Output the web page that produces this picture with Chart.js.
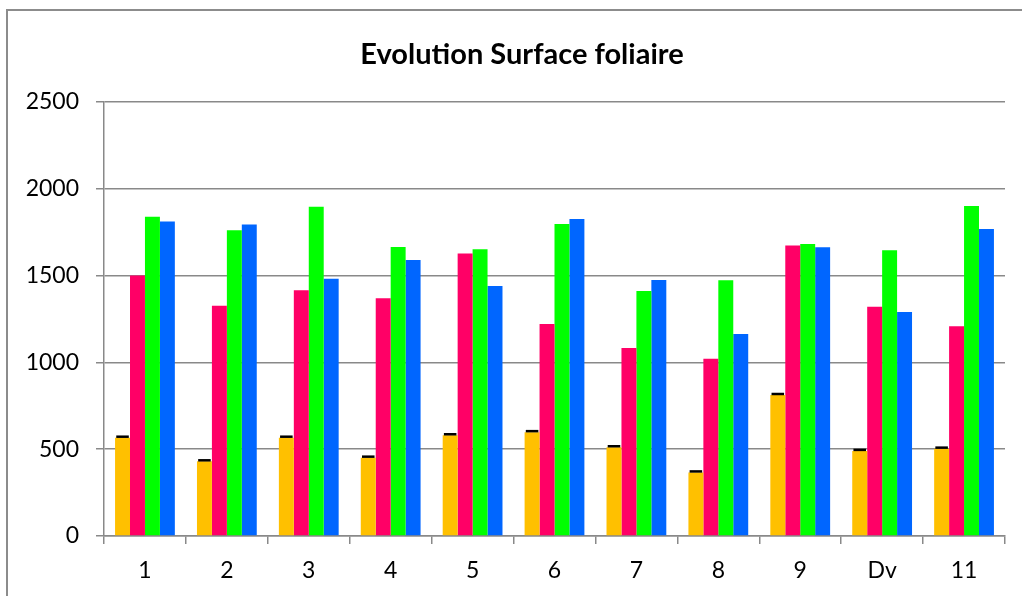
<!DOCTYPE html>
<html>
<head>
<meta charset="utf-8">
<script src="https://cdn.jsdelivr.net/npm/chart.js@4.4.1/dist/chart.umd.min.js"></script>
<style>
  html, body { margin: 0; padding: 0; background: #fff; }
  #wrap { width: 1022px; height: 596px; position: relative; }
</style>
</head>
<body>
<div id="wrap"><canvas id="c" width="1022" height="596"></canvas></div>
<script>
var categories = ['1', '2', '3', '4', '5', '6', '7', '8', '9', 'Dv', '11'];
var serieOrange = [566, 430, 566, 451, 580, 598, 511, 366, 812, 490, 503];
var serieOrangeErr = [6, 6, 6, 6, 6, 6, 6, 6, 6, 6, 6];
var serieRose = [1500, 1327, 1415, 1369, 1628, 1221, 1083, 1021, 1674, 1321, 1208];
var serieVert = [1839, 1761, 1897, 1665, 1652, 1797, 1411, 1473, 1682, 1646, 1901];
var serieBleu = [1811, 1794, 1482, 1590, 1440, 1826, 1475, 1163, 1663, 1290, 1768];
var yTicks = [0, 500, 1000, 1500, 2000, 2500];
var titre = 'Evolution Surface foliaire';

var gridColor = '#898989';
var fontFamily = 'Lato, "Open Sans", sans-serif';

// cadre du graphique (haut et gauche)
var framePlugin = {
  id: 'frame',
  beforeDraw: function (chart) {
    var ctx = chart.ctx;
    ctx.save();
    ctx.fillStyle = '#fff';
    ctx.fillRect(0, 0, chart.width, chart.height);
    ctx.strokeStyle = '#8c8c8c';
    ctx.lineWidth = 2;
    ctx.beginPath();
    ctx.moveTo(7, chart.height);
    ctx.lineTo(7, 10);
    ctx.lineTo(chart.width, 10);
    ctx.stroke();
    ctx.restore();
  },
  // titre centré sur le cadre, pas sur le canvas
  afterDraw: function (chart) {
    var ctx = chart.ctx;
    ctx.save();
    ctx.fillStyle = '#000';
    ctx.font = 'bold 29px ' + fontFamily;
    ctx.textAlign = 'center';
    ctx.textBaseline = 'middle';
    ctx.fillText(titre, 522, 55);
    ctx.restore();
  }
};

// petites barres d'erreur noires sur la série orange
var errorBarPlugin = {
  id: 'errorBars',
  afterDatasetsDraw: function (chart) {
    var meta = chart.getDatasetMeta(0);
    var y = chart.scales.y;
    var ctx = chart.ctx;
    ctx.save();
    ctx.strokeStyle = '#000';
    ctx.lineWidth = 2.5;
    meta.data.forEach(function (bar, i) {
      var py = y.getPixelForValue(serieOrange[i] + serieOrangeErr[i]);
      var half = bar.width * 0.42;
      ctx.beginPath();
      ctx.moveTo(bar.x - half, py);
      ctx.lineTo(bar.x + half, py);
      ctx.stroke();
    });
    ctx.restore();
  }
};

new Chart(document.getElementById('c'), {
  type: 'bar',
  data: {
    labels: categories,
    datasets: [
      { data: serieOrange, backgroundColor: '#FFC000' },
      { data: serieRose, backgroundColor: '#FF0066' },
      { data: serieVert, backgroundColor: '#00FF00' },
      { data: serieBleu, backgroundColor: '#0066FF' }
    ]
  },
  options: {
    responsive: false,
    animation: false,
    devicePixelRatio: 1,
    categoryPercentage: 0.73,
    barPercentage: 1,
    layout: { padding: { left: 0, right: 17, top: 102, bottom: 0 } },
    plugins: {
      legend: { display: false },
      tooltip: { enabled: false },
      title: { display: false }
    },
    scales: {
      x: {
        grid: { display: true, drawOnChartArea: false, drawTicks: true, tickLength: 8, color: gridColor, lineWidth: 1.5, offset: true },
        border: { display: true, color: gridColor, width: 1.5 },
        ticks: { color: '#000', padding: 13, font: { family: fontFamily, size: 23 } },
        afterFit: function (s) { s.height = 60; }
      },
      y: {
        min: 0,
        max: 2500,
        afterBuildTicks: function (s) { s.ticks = yTicks.map(function (v) { return { value: v }; }); },
        grid: { color: gridColor, lineWidth: 1.5, tickLength: 8 },
        border: { display: true, color: gridColor, width: 1.5 },
        ticks: {
          color: '#000', padding: 17, font: { family: fontFamily, size: 23 },
          callback: function (v) { return String(v); }
        },
        afterFit: function (s) { s.width = 104; }
      }
    }
  },
  plugins: [framePlugin, errorBarPlugin]
});
</script>
</body>
</html>
